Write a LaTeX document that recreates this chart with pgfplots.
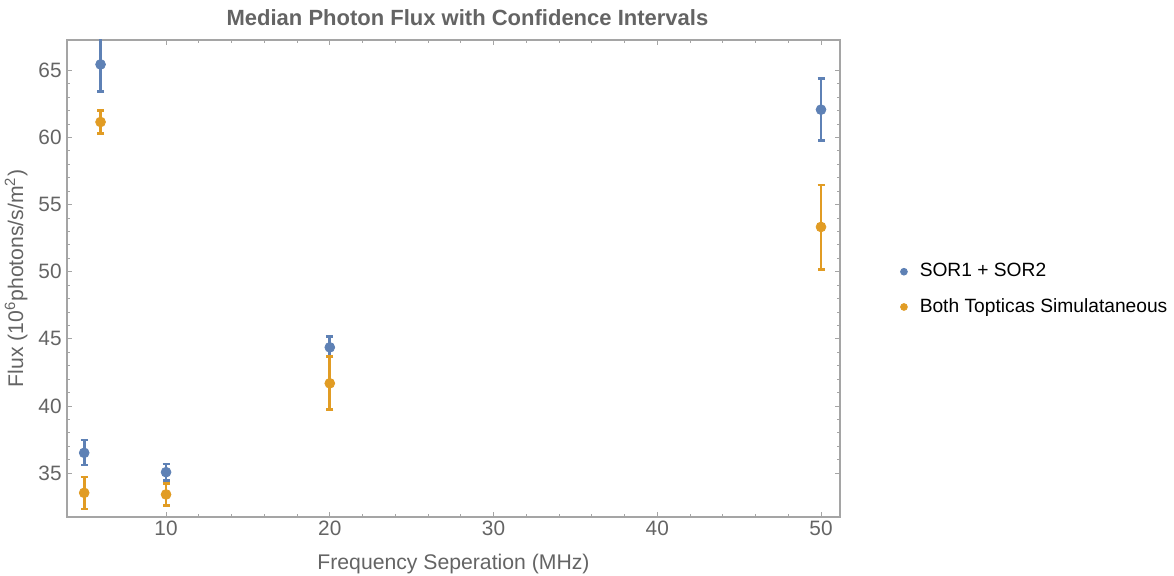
\documentclass[border=0pt]{standalone}
\usepackage{fontspec}
\setmainfont{Liberation Sans}
\usepackage{pgfplots}
\pgfplotsset{compat=1.18}
\usepackage{pgfplotstable}
\definecolor{bluec}{RGB}{94,129,181}
\definecolor{orangec}{RGB}{225,156,36}
\definecolor{txtgray}{RGB}{100,100,100}
\definecolor{framegray}{RGB}{165,165,165}

\pgfplotstableread{
x y ep em
5 36.51 0.95 0.91
6 65.45 2.10 2.00
10 35.07 0.60 0.64
20 44.37 0.79 0.70
50 62.08 2.34 2.28
}\sortab

\pgfplotstableread{
x y ep em
5 33.53 1.19 1.19
6 61.16 0.87 0.87
10 33.41 0.82 0.82
20 41.69 1.98 1.97
50 53.34 3.13 3.15
}\toptab

\begin{document}
\begin{tikzpicture}
\path[use as bounding box] (-33.5pt,-29pt) rectangle (553.5pt,258.5pt);
\begin{axis}[
  at={(0,0)}, anchor=south west, scale only axis,
  width=386.5pt, height=238.5pt,
  xmin=3.95, xmax=51.16, ymin=31.73, ymax=67.27,
  xtick={10,20,30,40,50}, ytick={35,40,45,50,55,60,65},
  minor x tick num=4, minor y tick num=4,
  tick align=inside,
  major tick length=2.5pt, minor tick length=1.3pt,
  every tick/.style={framegray, line width=0.5pt},
  axis line style={framegray, line width=0.6pt},
  tick label style={font=\fontsize{10.4}{12}\selectfont, text=txtgray},
  /pgf/number format/assume math mode=true,
  xticklabel style={anchor=north, inner sep=0pt, yshift=-2pt},
  yticklabel style={anchor=east, inner sep=0pt, xshift=-2.5pt},
  xlabel={Frequency Seperation (MHz)},
  ylabel={Flux (10\textsuperscript{6}photons/s/m\textsuperscript{2})},
  label style={font=\fontsize{10.6}{12}\selectfont, text=txtgray},
  xlabel style={at={(axis description cs:0.5,0)}, anchor=base, yshift=-26pt, inner sep=0pt},
  ylabel style={at={(axis description cs:-0.0569,0.5)}, anchor=base, inner sep=0pt},
  title={Median Photon Flux with Confidence Intervals},
  every axis title/.style={at={(axis description cs:0.518,1)}, anchor=base, yshift=7pt, font=\fontsize{11}{13}\selectfont\bfseries, text=txtgray, inner sep=0pt},
  legend style={at={(axis description cs:1.0773,0.477)}, anchor=west, draw=none, fill=none, inner sep=0pt, column sep=4pt, font=\fontsize{9.6}{12}\selectfont, row sep=5.3pt, cells={anchor=west}},
  legend cell align=left,
]
\addplot[only marks, mark=*, mark size=2.45pt, color=bluec, mark options={draw=bluec, fill=bluec},
  legend image code/.code={\fill[bluec] (0pt,0pt) circle (1.7pt);},
  error bars/.cd, y dir=both, y explicit,
  error bar style={line width=1.4pt, bluec},
  error mark options={rotate=90, mark size=1.75pt, line width=1.3pt, bluec}]
  table[x=x, y=y, y error plus=ep, y error minus=em]{\sortab};
\addlegendentry{SOR1 + SOR2}
\addplot[only marks, mark=*, mark size=2.45pt, color=orangec, mark options={draw=orangec, fill=orangec},
  legend image code/.code={\fill[orangec] (0pt,0pt) circle (1.7pt);},
  error bars/.cd, y dir=both, y explicit,
  error bar style={line width=1.4pt, orangec},
  error mark options={rotate=90, mark size=1.75pt, line width=1.3pt, orangec}]
  table[x=x, y=y, y error plus=ep, y error minus=em]{\toptab};
\addlegendentry{Both Topticas Simulataneous}
\end{axis}
\end{tikzpicture}
\end{document}
